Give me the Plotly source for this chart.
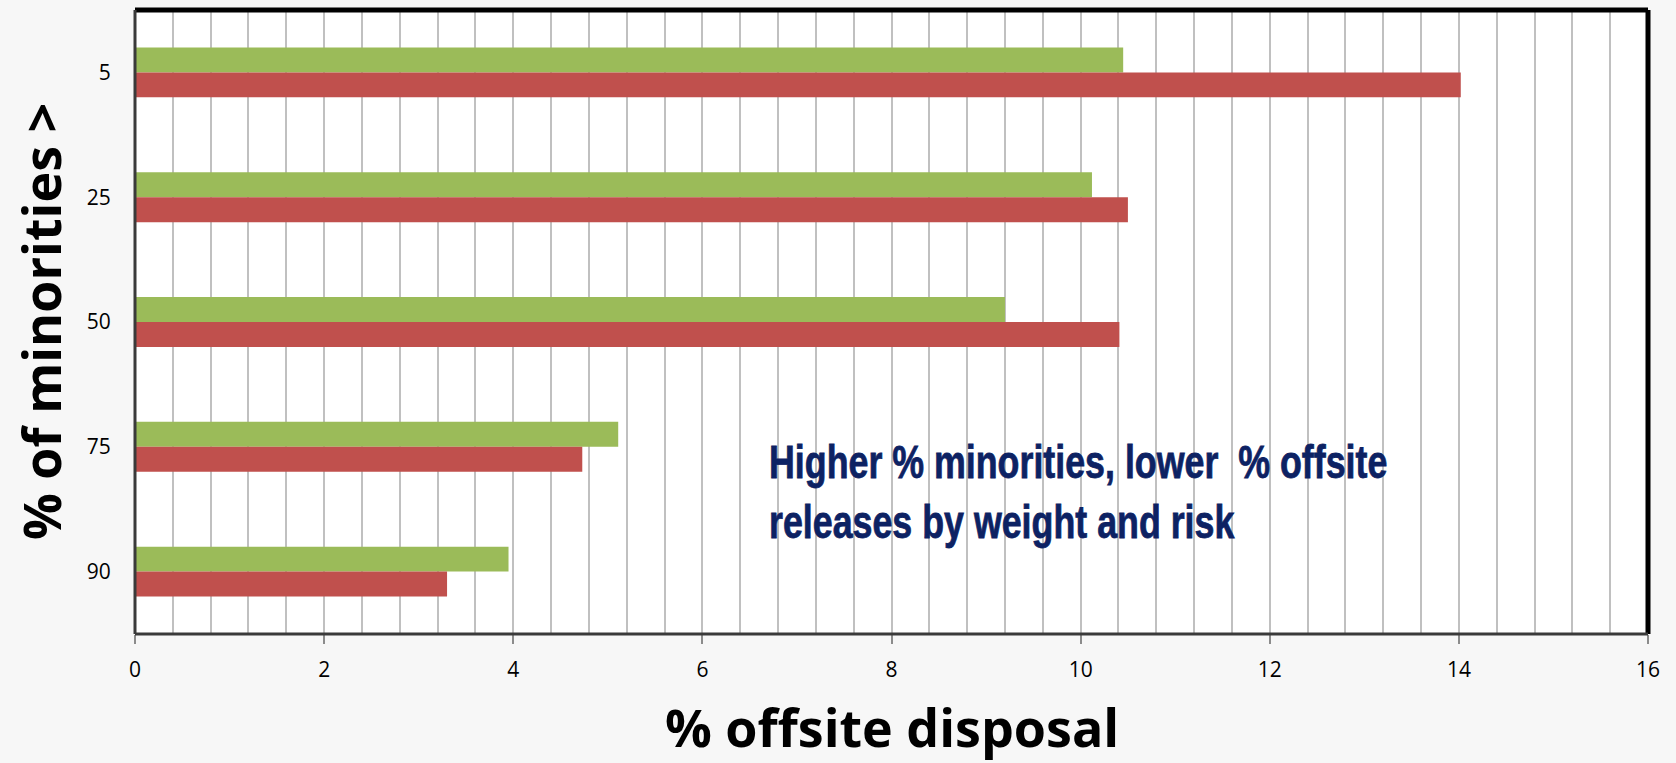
import plotly.graph_objects as go

# Share of offsite disposal by minority-population band
categories = ["5", "25", "50", "75", "90"]
by_weight = [10.45, 10.12, 9.20, 5.11, 3.95]   # green series
by_risk = [14.02, 10.50, 10.41, 4.73, 3.30]    # red series
x_tick_values = [0, 2, 4, 6, 8, 10, 12, 14, 16]

W, H = 1676, 763
L, R, T, B = 135, 28, 10, 129

fig = go.Figure()
fig.add_trace(go.Bar(y=categories, x=by_weight, orientation="h",
                     marker=dict(color="#9BBB59", line=dict(width=0)),
                     name="weight"))
fig.add_trace(go.Bar(y=categories, x=by_risk, orientation="h",
                     marker=dict(color="#C0504D", line=dict(width=0)),
                     name="risk"))

fig.update_layout(
    width=W, height=H,
    margin=dict(l=L, r=R, t=T, b=B),
    paper_bgcolor="#f7f7f7",
    plot_bgcolor="#ffffff",
    barmode="group",
    bargap=0.6,
    bargroupgap=0,
    showlegend=False,
    font=dict(family="Open Sans, sans-serif", color="#000000"),
    xaxis=dict(
        range=[0, 16],
        tickvals=x_tick_values,
        ticktext=[str(v) for v in x_tick_values],
        tickfont=dict(size=21, color="#000000"),
        ticks="outside", ticklen=9, tickwidth=2, tickcolor="#8c8c8c",
        ticklabelstandoff=8,
        showgrid=True, gridcolor="#c0c0c0", gridwidth=2,
        minor=dict(dtick=0.4, showgrid=True, gridcolor="#c0c0c0", gridwidth=2),
        zeroline=False, showline=False, fixedrange=True,
    ),
    yaxis=dict(
        type="category",
        categoryorder="array", categoryarray=categories,
        autorange="reversed",
        tickfont=dict(size=21, color="#000000"),
        ticks="outside", ticklen=19, tickcolor="rgba(0,0,0,0)",
        showgrid=False, zeroline=False, showline=False, fixedrange=True,
    ),
)

# Frame: heavy black top/right edges, dark grey left/bottom edges
frame = [
    dict(x0=0, x1=1, y0=1, y1=1, color="#000000", width=5),
    dict(x0=1, x1=1, y0=0, y1=1, color="#000000", width=5),
    dict(x0=0, x1=0, y0=0, y1=1, color="#3a3a3a", width=3),
    dict(x0=0, x1=1, y0=0, y1=0, color="#3a3a3a", width=3),
]
for s in frame:
    fig.add_shape(type="line", xref="paper", yref="paper",
                  x0=s["x0"], x1=s["x1"], y0=s["y0"], y1=s["y1"],
                  line=dict(color=s["color"], width=s["width"]))

pw = W - L - R
ph = H - T - B

# Axis titles
title_font = dict(family="Open Sans, sans-serif", size=52, color="#000000")
fig.add_annotation(text="<b>% offsite disposal</b>", xref="paper", yref="paper",
                   x=0.5, y=-(726 - (T + ph)) / ph, xanchor="center", yanchor="middle",
                   showarrow=False, font=title_font)
fig.add_annotation(text="<b>% of minorities ></b>", xref="paper", yref="paper",
                   x=-(L - 40) / pw, y=0.5, xanchor="center", yanchor="middle",
                   textangle=-90, showarrow=False, font=title_font)

# Callout text
fig.add_annotation(text="<b>Higher % minorities, lower  % offsite<br>releases by weight and risk</b>",
                   xref="paper", yref="paper",
                   x=(767 - L) / pw, y=1 - (492 - T) / ph, xanchor="left", yanchor="middle",
                   align="left", showarrow=False,
                   font=dict(family="Liberation Sans, Arial, sans-serif",
                             size=46, color="#0d2263"))

# Narrow the callout lettering horizontally (keeping its left edge) and thicken it a little
post = """
var gd = document.getElementById('{plot_id}');
gd.querySelectorAll('text.annotation-text').forEach(function (t) {
  if (t.textContent.indexOf('Higher') === 0) {
    var b = t.getBBox();
    t.setAttribute('transform',
      'translate(' + b.x + ',0) scale(0.778,1) translate(' + (-b.x) + ',0)');
    t.style.stroke = '#0d2263';
    t.style.strokeWidth = '0.8px';
  }
});
"""

fig.write_html("out.html", post_script=post)
